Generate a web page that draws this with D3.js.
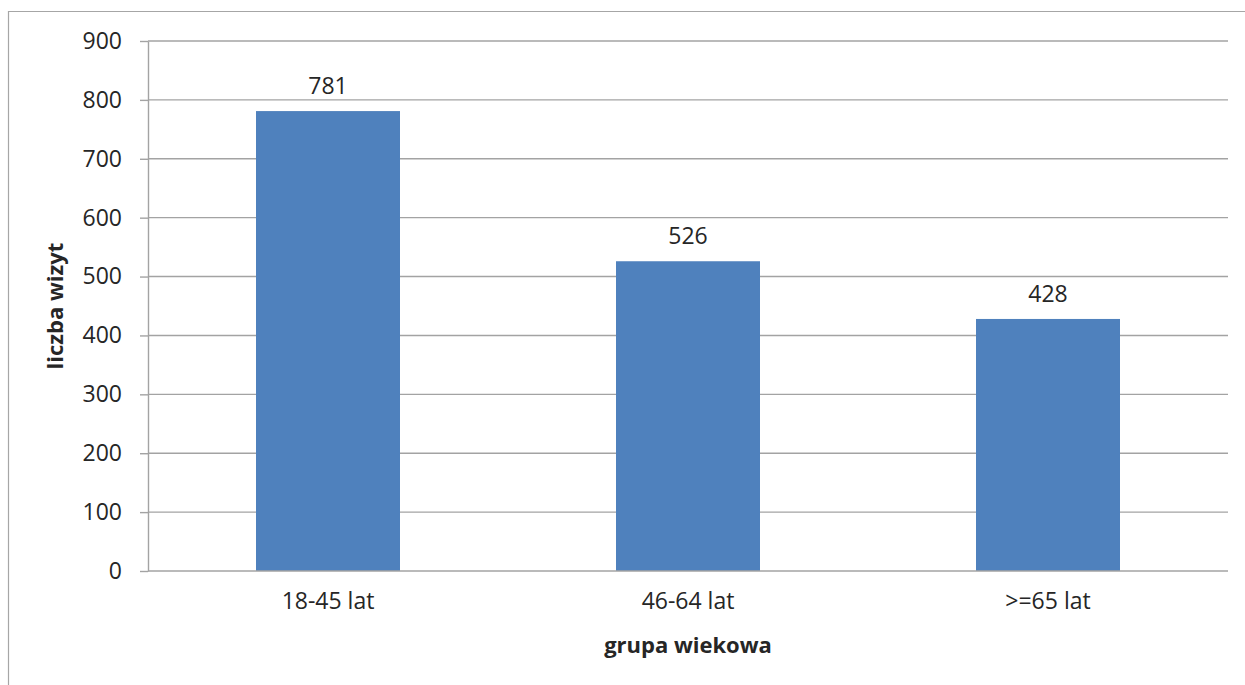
<!DOCTYPE html>
<html>
<head>
<meta charset="utf-8">
<script src="https://cdn.jsdelivr.net/npm/d3@7"></script>
<style>
  html, body { margin: 0; padding: 0; background: #ffffff; }
  svg { display: block; font-family: "Open Sans", "Noto Sans", sans-serif; }
</style>
</head>
<body>
<svg id="chart" width="1245" height="685"></svg>
<script>
// Liczba wizyt w podziale na grupy wiekowe
const categories = ["18-45 lat", "46-64 lat", ">=65 lat"];
const visits = [781, 526, 428];
const yTicks = [0, 100, 200, 300, 400, 500, 600, 700, 800, 900];
const xTitle = "grupa wiekowa";
const yTitle = "liczba wizyt";

const W = 1245, H = 685;
const plot = { left: 148, right: 1228, top: 41, bottom: 571 };
const textColor = "#262626";
const gridColor = "#a3a3a3";
const barColor = "#4f81bd";
const labelSize = 23;
const titleSize = 22;

const svg = d3.select("#chart");

// Outer chart frame (top and left edges visible)
svg.append("path")
  .attr("d", `M8.5,${H} V11.5 H${W}`)
  .attr("fill", "none")
  .attr("stroke", "#a6a6a6")
  .attr("stroke-width", 1.2);

const x = d3.scaleBand()
  .domain(categories)
  .range([plot.left, plot.right])
  .paddingInner(0.6)
  .paddingOuter(0.3);

const y = d3.scaleLinear()
  .domain([0, 900])
  .range([plot.bottom, plot.top]);

// Horizontal gridlines
svg.append("g")
  .selectAll("line")
  .data(yTicks.filter(d => d > 0))
  .join("line")
  .attr("x1", plot.left)
  .attr("x2", plot.right)
  .attr("y1", d => y(d))
  .attr("y2", d => y(d))
  .attr("stroke", gridColor)
  .attr("stroke-width", 1.4);

// Y axis
const yAxis = svg.append("g")
  .attr("transform", `translate(${plot.left},0)`)
  .call(d3.axisLeft(y).tickValues(yTicks).tickSize(8).tickPadding(18).tickSizeOuter(0));
yAxis.select(".domain").attr("stroke", gridColor).attr("stroke-width", 1.4);
yAxis.selectAll(".tick line").attr("stroke", gridColor).attr("stroke-width", 1.4);
yAxis.selectAll(".tick text")
  .attr("fill", textColor)
  .attr("font-size", labelSize)
  .attr("font-family", "'Open Sans', sans-serif");

// Bars
svg.append("g")
  .selectAll("rect")
  .data(categories.map((c, i) => ({ c, v: visits[i] })))
  .join("rect")
  .attr("x", d => x(d.c))
  .attr("width", x.bandwidth())
  .attr("y", d => y(d.v))
  .attr("height", d => y(0) - y(d.v))
  .attr("fill", barColor);

// X axis baseline
const xAxis = svg.append("g")
  .attr("transform", `translate(0,${plot.bottom})`)
  .call(d3.axisBottom(x).tickSize(0).tickPadding(22).tickSizeOuter(0));
xAxis.select(".domain").attr("stroke", gridColor).attr("stroke-width", 1.4)
  .attr("d", `M${plot.left},0H${plot.right}`);
xAxis.selectAll(".tick text")
  .attr("fill", textColor)
  .attr("font-size", labelSize)
  .attr("font-family", "'Open Sans', sans-serif");

// Value labels above bars
svg.append("g")
  .selectAll("text")
  .data(categories.map((c, i) => ({ c, v: visits[i] })))
  .join("text")
  .attr("x", d => x(d.c) + x.bandwidth() / 2)
  .attr("y", d => y(d.v) - 17)
  .attr("text-anchor", "middle")
  .attr("fill", textColor)
  .attr("font-size", labelSize)
  .text(d => d.v);

// Axis titles
svg.append("text")
  .attr("x", (plot.left + plot.right) / 2)
  .attr("y", 653)
  .attr("text-anchor", "middle")
  .attr("fill", textColor)
  .attr("font-size", titleSize)
  .attr("font-weight", "bold")
  .text(xTitle);

svg.append("text")
  .attr("transform", `translate(63,${(plot.top + plot.bottom) / 2}) rotate(-90)`)
  .attr("text-anchor", "middle")
  .attr("fill", textColor)
  .attr("font-size", titleSize)
  .attr("font-weight", "bold")
  .text(yTitle);
</script>
</body>
</html>
